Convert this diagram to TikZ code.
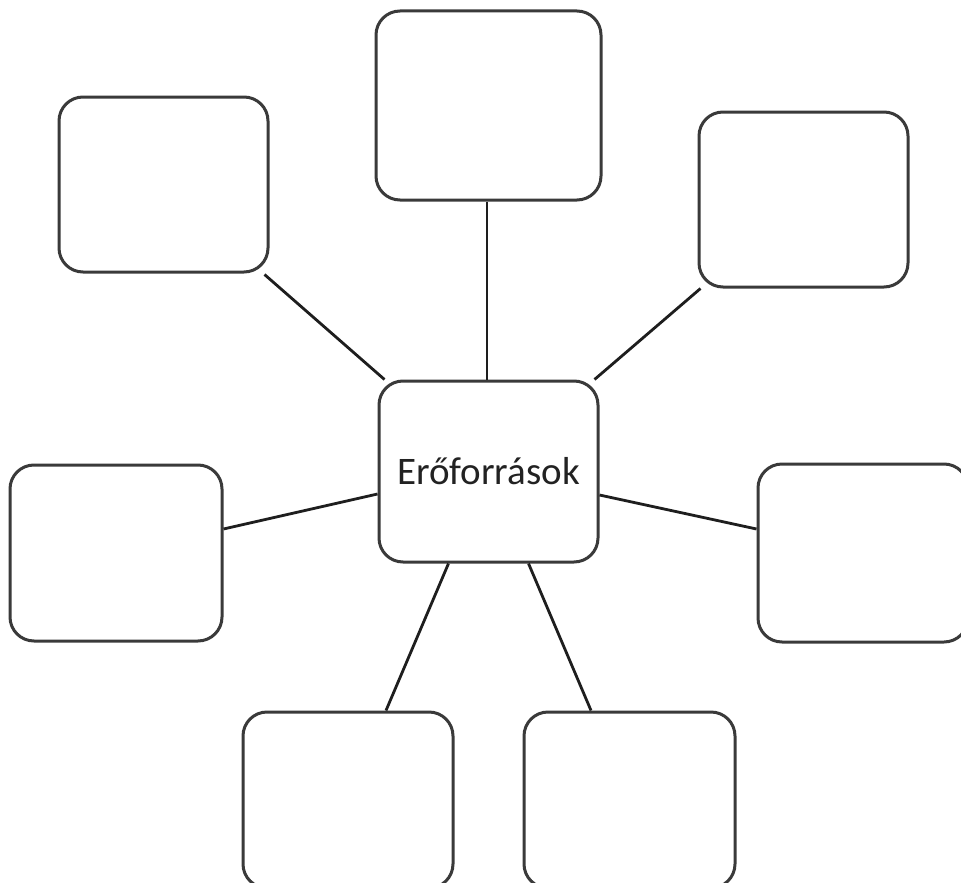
\documentclass[tikz,border=0pt]{standalone}
\usepackage{fontspec}
\setmainfont{Carlito}
\definecolor{boxline}{HTML}{3A3A3A}
\definecolor{conline}{HTML}{1E1E1E}
\definecolor{txt}{HTML}{222222}
\begin{document}
\begin{tikzpicture}[x=1pt,y=-1pt,
  box/.style={draw=boxline, line width=3pt, rectangle, rounded corners=24pt, fill=white, inner sep=0pt},
  conn/.style={draw=conline, line width=2.8pt}]
\useasboundingbox (0,0) rectangle (961,883);
\node[box, minimum width=225pt, minimum height=189pt] (tc) at (488.5,105.5) {};
\node[box, minimum width=209pt, minimum height=175pt] (tl) at (163.5,184.5) {};
\node[box, minimum width=209pt, minimum height=175pt] (tr) at (803.5,199.5) {};
\node[box, minimum width=219pt, minimum height=181pt, text=txt, font=\fontsize{39}{46}\selectfont] (c) at (488.5,471.5) {Erőforrások};
\node[box, minimum width=212pt, minimum height=176pt] (l) at (116,553) {};
\node[box, minimum width=210pt, minimum height=178pt] (r) at (863,553) {};
\node[box, minimum width=210pt, minimum height=176pt] (bl) at (348,800) {};
\node[box, minimum width=211pt, minimum height=176pt] (br) at (629.5,800) {};
\draw[conn] ([shift={(-5,1)}]tl.south east) -- ([shift={(7,0)}]c.north west);
\draw[conn] ([shift={(3,0)}]tr.south west) -- ([shift={(-5,0)}]c.north east);
\draw[conn] ([shift={(-1.5,0)}]tc.south) -- ([shift={(-1.5,0)}]c.north);
\draw[conn] ([shift={(0,-24)}]l.east) -- ([shift={(0,22.5)}]c.west);
\draw[conn] ([shift={(0,23.5)}]c.east) -- ([shift={(0,-24)}]r.west);
\draw[conn] ([shift={(-40,0)}]c.south) -- ([shift={(38,0)}]bl.north);
\draw[conn] ([shift={(40,0)}]c.south) -- ([shift={(-38.5,0)}]br.north);
\end{tikzpicture}
\end{document}
